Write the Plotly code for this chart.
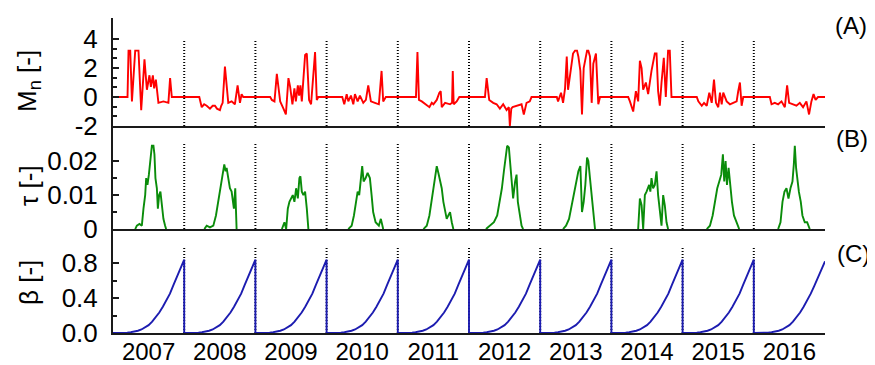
import plotly.graph_objects as go

years = list(range(2007, 2017))
year_labels = [str(y) for y in years]
season_ends = list(range(2008, 2017))

# ---- Panel A: M_n [-]  (fraction of year, value) ----
mn_2007 = [(0.0, 0), (0.204, 0), (0.218, 3.2), (0.242, 3.2), (0.266, -0.3), (0.312, 3.2), (0.358, 3.2),
           (0.396, -0.9), (0.442, 2.6), (0.476, 0.5), (0.512, 1.5), (0.532, 0.7), (0.56, 1.5), (0.578, 0.6),
           (0.602, 1.2), (0.638, -0.4), (0.708, -0.3), (0.778, -0.4), (0.802, 1.3), (0.826, 0)]
mn_2008 = [(0.0, 0), (0.212, 0), (0.246, -0.7), (0.28, -0.5), (0.316, -0.6), (0.362, -0.8), (0.40, -0.6),
           (0.432, -0.6), (0.46, -0.8), (0.502, -0.9), (0.52, -0.6), (0.54, -0.4), (0.572, 2.1), (0.619, -0.4),
           (0.666, -0.3), (0.712, -0.5), (0.75, 0.8), (0.783, -0.4), (0.806, 0.2), (0.829, 0)]
mn_2009 = [(0.0, 0), (0.208, 0), (0.231, -0.2), (0.268, -0.3), (0.301, 1.6), (0.348, -0.3), (0.394, -0.8),
           (0.428, -1.2), (0.464, 1.3), (0.488, 0.7), (0.52, -0.5), (0.548, 0.6), (0.568, -0.3), (0.596, 0.8),
           (0.614, 0.1), (0.632, 0.8), (0.652, -0.3), (0.698, 2.9), (0.722, 3.0), (0.754, -0.2), (0.782, -0.5),
           (0.838, 3.1), (0.862, -0.2), (0.884, 0)]
mn_2010 = [(0.0, 0), (0.22, 0), (0.248, -0.5), (0.282, 0.2), (0.305, -0.3), (0.342, 0.1), (0.375, -0.5),
           (0.398, 0.2), (0.436, -0.3), (0.468, 0.1), (0.515, -0.4), (0.552, -0.2), (0.585, 0.8), (0.622, -0.3),
           (0.678, -0.4), (0.734, -0.5), (0.772, 1.8), (0.795, -0.3), (0.832, 0)]
mn_2011 = [(0.0, 0), (0.255, 0), (0.276, 3.1), (0.297, -0.2), (0.337, -0.3), (0.384, -0.5), (0.444, -0.7),
           (0.477, -0.4), (0.5, -0.5), (0.547, -0.2), (0.584, 0.3), (0.603, 0.4), (0.617, -0.7), (0.664, -0.4),
           (0.734, -0.5), (0.762, -0.4), (0.772, 1.8), (0.785, -0.5), (0.827, -0.3), (0.864, 0)]
mn_2012 = [(0.0, 0), (0.224, 0), (0.248, 1.3), (0.284, -0.2), (0.34, -0.4), (0.388, -0.5), (0.434, -0.8),
           (0.48, -0.5), (0.528, -0.9), (0.56, -0.7), (0.574, -2.0), (0.594, -0.8), (0.612, -0.7),
           (0.668, -0.6), (0.738, -0.5), (0.77, -1.2), (0.808, -0.4), (0.854, -0.3), (0.878, 0)]
mn_2013 = [(0.0, 0), (0.233, 0), (0.251, -0.3), (0.293, 0.3), (0.321, -0.4), (0.349, 0.6), (0.373, 2.8),
           (0.391, 0.5), (0.419, 1.5), (0.461, 3.0), (0.489, 3.2), (0.517, 3.2), (0.536, 2.8), (0.564, 1.8),
           (0.587, -1.2), (0.611, 2.0), (0.658, 3.2), (0.676, 3.2), (0.699, 2.8), (0.723, -0.4), (0.746, 2.3),
           (0.783, 3.0), (0.816, -0.5), (0.84, 0)]
mn_2014 = [(0.0, 0), (0.236, 0), (0.26, -0.3), (0.283, -0.6), (0.306, -1.0), (0.344, 0.4), (0.376, -0.3),
           (0.4, 2.5), (0.424, 2.0), (0.446, 0.5), (0.484, 1.0), (0.516, 0.2), (0.563, 1.8), (0.61, 3.0),
           (0.634, 3.0), (0.656, 0.4), (0.68, -0.6), (0.704, 1.0), (0.736, 2.7), (0.764, 0.0), (0.796, 3.2),
           (0.82, 3.2), (0.844, 0)]
mn_2015 = [(0.0, 0), (0.199, 0), (0.221, -0.3), (0.269, -0.6), (0.301, -0.4), (0.339, -0.6), (0.375, 0.3),
           (0.409, -0.4), (0.441, 1.2), (0.469, -0.4), (0.501, -0.7), (0.525, 0.3), (0.549, -0.5), (0.571, 0.3),
           (0.619, -0.3), (0.665, -0.5), (0.711, -0.4), (0.759, -0.3), (0.781, 0.4), (0.805, 1.0),
           (0.829, -0.6), (0.852, 0)]
mn_2016 = [(0.0, 0), (0.225, 0), (0.249, -0.5), (0.295, -0.4), (0.342, -0.5), (0.389, -0.3), (0.436, -0.7),
           (0.468, 0.8), (0.496, -0.4), (0.552, -0.5), (0.599, -0.6), (0.646, -0.4), (0.692, -0.7),
           (0.739, -0.3), (0.776, -1.2), (0.809, -0.3), (0.839, 0.2), (0.868, -0.2), (0.902, 0), (1.0, 0)]

# ---- Panel B: tau [-]  (fraction of year, value) ----
tau_2007 = [(0.312, 0), (0.335, 0.001), (0.372, 0.0015), (0.405, 0.001), (0.428, 0.006), (0.452, 0.010),
            (0.466, 0.015), (0.484, 0.013), (0.504, 0.016), (0.522, 0.020), (0.546, 0.0245), (0.568, 0.0245),
            (0.582, 0.022), (0.596, 0.015), (0.616, 0.012), (0.63, 0.006), (0.648, 0.010), (0.666, 0.011),
            (0.686, 0.006), (0.708, 0.003), (0.732, 0.001), (0.746, 0)]
tau_2008 = [(0.283, 0), (0.316, 0.001), (0.362, 0.0005), (0.409, 0.001), (0.446, 0.004), (0.479, 0.008),
            (0.512, 0.012), (0.54, 0.016), (0.563, 0.019), (0.582, 0.017), (0.596, 0.018), (0.619, 0.015),
            (0.642, 0.012), (0.666, 0.011), (0.68, 0.008), (0.698, 0.006), (0.717, 0.012), (0.727, 0.002),
            (0.736, 0)]
tau_2009 = [(0.372, 0), (0.408, 0.002), (0.432, 0.0), (0.455, 0.006), (0.478, 0.008), (0.502, 0.009),
            (0.525, 0.010), (0.548, 0.008), (0.572, 0.012), (0.596, 0.009), (0.618, 0.015), (0.632, 0.0155),
            (0.652, 0.011), (0.674, 0.010), (0.698, 0.011), (0.722, 0.006), (0.744, 0)]
tau_2010 = [(0.304, 0), (0.352, 0.001), (0.384, 0.004), (0.408, 0.008), (0.436, 0.011), (0.458, 0.010),
            (0.482, 0.015), (0.50, 0.0185), (0.52, 0.014), (0.548, 0.015), (0.576, 0.0165), (0.608, 0.015),
            (0.632, 0.010), (0.654, 0.005), (0.688, 0.002), (0.734, 0.001), (0.762, 0.003), (0.795, 0)]
tau_2011 = [(0.36, 0), (0.407, 0.001), (0.444, 0.004), (0.477, 0.009), (0.50, 0.012), (0.524, 0.015),
            (0.547, 0.0185), (0.57, 0.0165), (0.594, 0.014), (0.617, 0.012), (0.64, 0.008), (0.664, 0.005),
            (0.687, 0.003), (0.71, 0.004), (0.734, 0.005), (0.758, 0.002), (0.78, 0)]
tau_2012 = [(0.238, 0), (0.294, 0.001), (0.35, 0.002), (0.396, 0.004), (0.434, 0.008), (0.462, 0.012),
            (0.49, 0.017), (0.514, 0.021), (0.536, 0.0245), (0.56, 0.024), (0.584, 0.018), (0.602, 0.012),
            (0.62, 0.009), (0.648, 0.014), (0.668, 0.016), (0.686, 0.008), (0.714, 0.004), (0.738, 0.001),
            (0.76, 0)]
tau_2013 = [(0.321, 0), (0.363, 0.001), (0.405, 0.003), (0.443, 0.007), (0.465, 0.009), (0.489, 0.012),
            (0.517, 0.015), (0.536, 0.017), (0.564, 0.0185), (0.587, 0.005), (0.611, 0.008), (0.634, 0.013),
            (0.658, 0.021), (0.676, 0.020), (0.699, 0.015), (0.723, 0.010), (0.746, 0.004), (0.77, 0)]
tau_2014 = [(0.376, 0), (0.40, 0.009), (0.424, 0.007), (0.446, 0.0), (0.47, 0.010), (0.494, 0.011),
            (0.53, 0.013), (0.547, 0.011), (0.563, 0.015), (0.586, 0.012), (0.61, 0.013), (0.634, 0.017),
            (0.656, 0.010), (0.68, 0.005), (0.704, 0.001), (0.727, 0.010), (0.75, 0.007), (0.774, 0.002),
            (0.796, 0)]
tau_2015 = [(0.339, 0), (0.384, 0.001), (0.422, 0.004), (0.454, 0.008), (0.487, 0.012), (0.515, 0.014),
            (0.543, 0.016), (0.566, 0.022), (0.585, 0.014), (0.604, 0.020), (0.623, 0.013), (0.646, 0.018),
            (0.669, 0.012), (0.693, 0.008), (0.721, 0.004), (0.759, 0.002), (0.795, 0)]
tau_2016 = [(0.342, 0), (0.375, 0.002), (0.403, 0.008), (0.431, 0.011), (0.459, 0.012), (0.487, 0.009),
            (0.515, 0.012), (0.543, 0.014), (0.562, 0.019), (0.576, 0.0245), (0.594, 0.018), (0.613, 0.014),
            (0.633, 0.011), (0.66, 0.008), (0.683, 0.004), (0.716, 0.002), (0.749, 0.002), (0.786, 0)]

# ---- Panel C: beta [-]  (values at fractions of the year) ----
beta_frac = [0.0, 0.1, 0.15, 0.2, 0.25, 0.3, 0.35, 0.4, 0.45, 0.5, 0.55, 0.6, 0.65, 0.7, 0.75,
             0.8, 0.85, 0.9, 0.95, 1.0]
beta_2007 = [0, 0, 0.001, 0.004, 0.009, 0.016, 0.026, 0.04, 0.062, 0.09, 0.13, 0.18, 0.235, 0.30, 0.37,
             0.45, 0.55, 0.65, 0.75, 0.84]
beta_2008 = [0, 0, 0.001, 0.004, 0.009, 0.016, 0.026, 0.04, 0.062, 0.09, 0.13, 0.18, 0.235, 0.30, 0.37,
             0.45, 0.55, 0.65, 0.75, 0.84]
beta_2009 = [0, 0, 0.001, 0.004, 0.009, 0.016, 0.026, 0.04, 0.062, 0.09, 0.13, 0.18, 0.235, 0.30, 0.37,
             0.45, 0.55, 0.65, 0.75, 0.84]
beta_2010 = [0, 0, 0.001, 0.004, 0.009, 0.016, 0.026, 0.04, 0.062, 0.09, 0.13, 0.18, 0.235, 0.30, 0.37,
             0.45, 0.55, 0.65, 0.75, 0.84]
beta_2011 = [0, 0, 0.001, 0.004, 0.009, 0.016, 0.026, 0.04, 0.062, 0.09, 0.13, 0.18, 0.235, 0.30, 0.37,
             0.45, 0.55, 0.65, 0.75, 0.84]
beta_2012 = [0, 0, 0.001, 0.004, 0.009, 0.016, 0.026, 0.04, 0.062, 0.09, 0.13, 0.18, 0.235, 0.30, 0.37,
             0.45, 0.55, 0.65, 0.75, 0.84]
beta_2013 = [0, 0, 0.001, 0.004, 0.009, 0.016, 0.026, 0.04, 0.062, 0.09, 0.13, 0.18, 0.235, 0.30, 0.37,
             0.45, 0.55, 0.65, 0.75, 0.84]
beta_2014 = [0, 0, 0.001, 0.004, 0.009, 0.016, 0.026, 0.04, 0.062, 0.09, 0.13, 0.18, 0.235, 0.30, 0.37,
             0.45, 0.55, 0.65, 0.75, 0.84]
beta_2015 = [0, 0, 0.001, 0.004, 0.009, 0.016, 0.026, 0.04, 0.062, 0.09, 0.13, 0.18, 0.235, 0.30, 0.37,
             0.45, 0.55, 0.65, 0.75, 0.84]
beta_2016 = [0, 0, 0.001, 0.004, 0.009, 0.016, 0.026, 0.04, 0.062, 0.09, 0.13, 0.18, 0.235, 0.30, 0.37,
             0.45, 0.54, 0.63, 0.73, 0.82]

mn_years = [mn_2007, mn_2008, mn_2009, mn_2010, mn_2011, mn_2012, mn_2013, mn_2014, mn_2015, mn_2016]
tau_years = [tau_2007, tau_2008, tau_2009, tau_2010, tau_2011, tau_2012, tau_2013, tau_2014, tau_2015, tau_2016]
beta_years = [beta_2007, beta_2008, beta_2009, beta_2010, beta_2011, beta_2012, beta_2013, beta_2014,
              beta_2015, beta_2016]

FONT = "Liberation Sans, Arial, Helvetica, sans-serif"
AX = "#1a1a1a"

# page body has an 8px default margin: figure is sized so plot area lands at x 113-825, y 18-333
FIG_W, FIG_H = 867, 357
PAD = 8


def join(per_year, gaps):
    xs, ys = [], []
    for yr, pts in zip(years, per_year):
        for f, v in pts:
            xs.append(yr + f)
            ys.append(v)
        if gaps:
            xs.append(None)
            ys.append(None)
    return xs, ys


mn_x, mn_y = join(mn_years, False)
tau_x, tau_y = join(tau_years, True)
beta_x, beta_y = [], []
for yr, vals in zip(years, beta_years):
    for f, v in zip(beta_frac, vals):
        beta_x.append(yr + f)
        beta_y.append(v)

fig = go.Figure()
fig.add_trace(go.Scatter(x=mn_x, y=mn_y, mode="lines", line=dict(color="#ff0000", width=1.9),
                         xaxis="x3", yaxis="y3", showlegend=False))
fig.add_trace(go.Scatter(x=tau_x, y=tau_y, mode="lines", line=dict(color="#0a8c0a", width=1.9),
                         xaxis="x2", yaxis="y2", showlegend=False))
fig.add_trace(go.Scatter(x=beta_x, y=beta_y, mode="lines", line=dict(color="#1c1cb0", width=1.9),
                         xaxis="x", yaxis="y", showlegend=False))

# dotted season separators
shapes = []
for xe in season_ends:
    for yref, y0, y1 in (("y3", -2, 4.0), ("y2", 0, 0.0253), ("y", 0, 0.99)):
        shapes.append(dict(type="line", xref="x", yref=yref, x0=xe, x1=xe, y0=y0, y1=y1,
                           line=dict(color="black", width=2, dash="1px,2px"), layer="below"))

common_x = dict(range=[2007, 2017], showgrid=False, zeroline=False, showline=True, linecolor=AX,
                linewidth=2, ticks="", automargin=False)
common_y = dict(showgrid=False, zeroline=False, showline=True, linecolor=AX, linewidth=2,
                ticks="inside", ticklen=6, tickwidth=1.5, tickcolor=AX, automargin=False,
                tickfont=dict(family=FONT, size=26, color="black"), ticklabelstandoff=8)

fig.update_layout(
    width=FIG_W, height=FIG_H,
    margin=dict(l=113 - PAD, r=FIG_W + PAD - 825, t=18 - PAD, b=FIG_H + PAD - 333),
    paper_bgcolor="white", plot_bgcolor="white",
    font=dict(family=FONT, color="black"),
    shapes=shapes,
    xaxis=dict(**common_x, domain=[0, 1], anchor="y", tickvals=[y + 0.5 for y in years],
               ticktext=year_labels, tickfont=dict(family=FONT, size=24, color="black"),
               ticklabelstandoff=-4),
    xaxis2=dict(**common_x, domain=[0, 1], anchor="y2", matches="x", showticklabels=False),
    xaxis3=dict(**common_x, domain=[0, 1], anchor="y3", matches="x", showticklabels=False),
    yaxis=dict(**common_y, domain=[0, 0.330], range=[0, 1.19], anchor="x",
               tickvals=[0, 0.4, 0.8], ticktext=["0.0", "0.4", "0.8"],
               minor=dict(tickvals=[0.2, 0.6], ticks="inside", ticklen=4, tickcolor=AX, tickwidth=1.5)),
    yaxis2=dict(**common_y, domain=[0.330, 0.657], range=[0, 0.0303], anchor="x2",
                tickvals=[0, 0.01, 0.02], ticktext=["0", "0.01", "0.02"],
                minor=dict(tickvals=[0.005, 0.015], ticks="inside", ticklen=4, tickcolor=AX,
                           tickwidth=1.5)),
    yaxis3=dict(**common_y, domain=[0.657, 1], range=[-2, 5.45], anchor="x3",
                tickvals=[-2, 0, 2, 4], ticktext=["-2", "0", "2", "4"],
                minor=dict(tickvals=[-1.3333, -0.6667, 0.6667, 1.3333, 2.6667, 3.3333],
                           ticks="inside", ticklen=4, tickcolor=AX, tickwidth=1.5)),
)

title_x = (29 - 113) / 712
annotations = [
    dict(text="M<sub>n</sub> [-]", x=title_x, y=(333 - 81) / 315, xref="paper", yref="paper", textangle=-90,
         showarrow=False, font=dict(family=FONT, size=26), xanchor="center", yanchor="middle"),
    dict(text="τ [-]", x=title_x, y=(333 - 186) / 315, xref="paper", yref="paper", textangle=-90,
         showarrow=False, font=dict(family=FONT, size=26), xanchor="center", yanchor="middle"),
    dict(text="β [-]", x=title_x, y=(333 - 283) / 315, xref="paper", yref="paper", textangle=-90,
         showarrow=False, font=dict(family=FONT, size=26), xanchor="center", yanchor="middle"),
    dict(text="(A)", x=(851 - 113) / 712, y=(333 - 25) / 315, xref="paper", yref="paper",
         showarrow=False, font=dict(family=FONT, size=24), xanchor="center", yanchor="middle"),
    dict(text="(B)", x=(852 - 113) / 712, y=(333 - 138) / 315, xref="paper", yref="paper",
         showarrow=False, font=dict(family=FONT, size=24), xanchor="center", yanchor="middle"),
    dict(text="(C)", x=(853 - 113) / 712, y=(333 - 253) / 315, xref="paper", yref="paper",
         showarrow=False, font=dict(family=FONT, size=24), xanchor="center", yanchor="middle"),
]
fig.update_layout(annotations=annotations)

fig.write_html("out.html")
